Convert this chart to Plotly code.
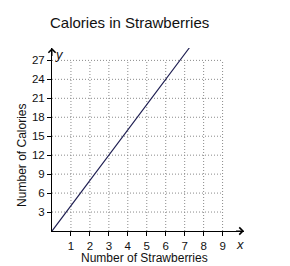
import plotly.graph_objects as go

# Data
strawberries = [0, 7.25]
calories = [0, 29]
x_ticks = [1, 2, 3, 4, 5, 6, 7, 8, 9]
y_ticks = [3, 6, 9, 12, 15, 18, 21, 24, 27]
grid_x_max = 9
grid_y_max = 27

fig = go.Figure()

grid_style = dict(color="#8a8a8a", width=1, dash="1px,2px")
# vertical grid lines
for gx in x_ticks:
    fig.add_trace(go.Scatter(x=[gx, gx], y=[0, grid_y_max], mode="lines",
                             line=grid_style, hoverinfo="skip", showlegend=False))
# horizontal grid lines
for gy in y_ticks:
    fig.add_trace(go.Scatter(x=[0, grid_x_max], y=[gy, gy], mode="lines",
                             line=grid_style, hoverinfo="skip", showlegend=False))

fig.add_trace(go.Scatter(x=strawberries, y=calories, mode="lines",
                         line=dict(color="#1c1c50", width=1.2),
                         showlegend=False, cliponaxis=False))

xmax = 10.13
ymax = 28.96

fig.update_layout(
    width=290, height=266,
    margin=dict(l=52, r=46, t=48, b=35),
    paper_bgcolor="white", plot_bgcolor="white",
    font=dict(family="Liberation Sans, Arial, sans-serif", size=12, color="#111"),
    xaxis=dict(range=[0, xmax], tickvals=x_ticks, ticktext=[str(v) for v in x_ticks],
               showgrid=False, zeroline=False, showline=True, linecolor="black",
               linewidth=1, ticks="outside", ticklen=4, tickcolor="black",
               tickfont=dict(size=11.5)),
    yaxis=dict(range=[0, ymax], tickvals=y_ticks, ticktext=[str(v) for v in y_ticks],
               showgrid=False, zeroline=False, showline=True, linecolor="black",
               linewidth=1, ticks="outside", ticklen=4, tickcolor="black",
               tickfont=dict(size=11.5)),
    annotations=[
        dict(text="Calories in Strawberries", xref="paper", yref="paper",
             x=0.406, y=1.142, showarrow=False, font=dict(size=15),
             xanchor="center", yanchor="middle"),
        dict(text="Number of Strawberries", xref="paper", yref="paper",
             x=0.484, y=-0.145, showarrow=False, font=dict(size=12),
             xanchor="center", yanchor="middle"),
        dict(text="Number of Calories", xref="paper", yref="paper",
             x=-0.16, y=0.412, showarrow=False, font=dict(size=12),
             textangle=-90, xanchor="center", yanchor="middle"),
        dict(text="<i>x</i>", xref="x", yref="paper", x=9.9, y=-0.075,
             showarrow=False, font=dict(size=13), xanchor="center", yanchor="middle"),
        dict(text="<i>y</i>", xref="x", yref="y", x=0.4, y=28.0,
             showarrow=False, font=dict(size=13), xanchor="center", yanchor="middle"),
        dict(x=xmax, y=0, ax=xmax - 0.5, ay=0, xref="x", yref="y", axref="x", ayref="y",
             text="", showarrow=True, arrowhead=4, arrowsize=1.4, arrowwidth=1,
             arrowcolor="black"),
        dict(x=0, y=ymax, ax=0, ay=ymax - 1.5, xref="x", yref="y", axref="x", ayref="y",
             text="", showarrow=True, arrowhead=4, arrowsize=1.4, arrowwidth=1,
             arrowcolor="black"),
    ],
)

fig.write_html("out.html")
